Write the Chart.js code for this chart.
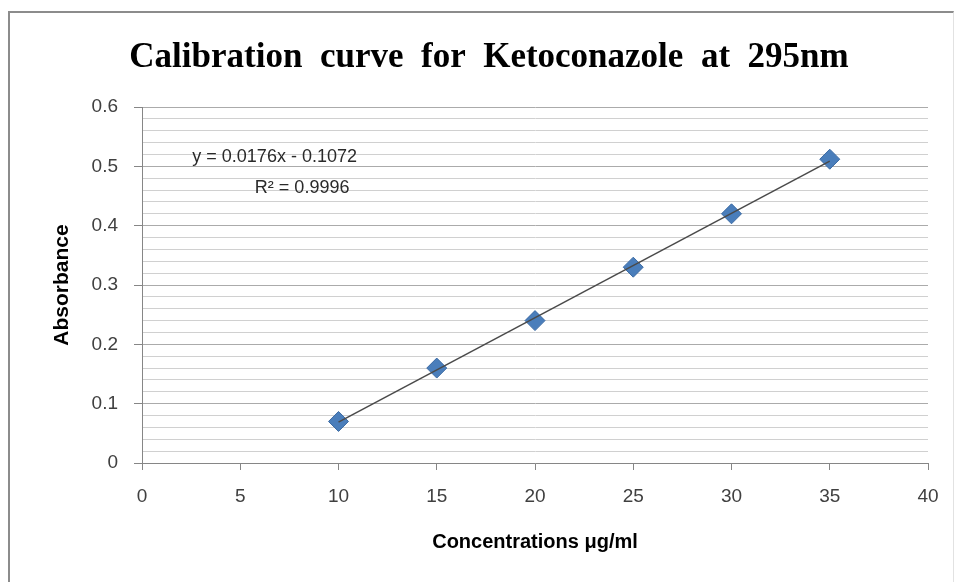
<!DOCTYPE html>
<html>
<head>
<meta charset="utf-8">
<script src="https://cdn.jsdelivr.net/npm/chart.js@4/dist/chart.umd.min.js"></script>
<style>
  body { margin: 0; background: #fff; overflow: hidden; }
  #frame { position: absolute; left: 8px; top: 11px; width: 943px; height: 600px;
           border-top: 2px solid #8c8c8c; border-left: 2px solid #8c8c8c; border-right: 1px solid #e2e2e2; }
  #canv { position: absolute; left: 0; top: 0; }
</style>
</head>
<body>
<div id="frame"></div>
<canvas id="canv" width="956" height="582"></canvas>
<script>
// data
var concentrations = [10, 15, 20, 25, 30, 35];
var absorbance = [0.07, 0.16, 0.24, 0.33, 0.42, 0.512];
// trendline end points (y = 0.0176x - 0.1072)
var trendX = [10, 35];
var trendY = [0.0688, 0.5088];
var equationText = "y = 0.0176x - 0.1072";
var rSquaredText = "R\u00b2 = 0.9996";

function isMajor(v)
{
  return Math.abs(v * 10 - Math.round(v * 10)) < 1e-6;
}

var points = [];
for (var i = 0; i < concentrations.length; i++)
{
  points.push({x: concentrations[i], y: absorbance[i]});
}
var trend = [];
for (var j = 0; j < trendX.length; j++)
{
  trend.push({x: trendX[j], y: trendY[j]});
}

var equationPlugin = {
  id: "equation",
  afterDatasetsDraw: function(chart) {
    var ctx = chart.ctx;
    var xs = chart.scales.x, ys = chart.scales.y;
    ctx.save();
    ctx.fillStyle = "#2a2a2a";
    ctx.font = "18px 'Liberation Sans'";
    ctx.textAlign = "center";
    ctx.textBaseline = "middle";
    ctx.fillText(equationText, xs.getPixelForValue(6.75), ys.getPixelForValue(0.516));
    ctx.fillText(rSquaredText, xs.getPixelForValue(8.15), ys.getPixelForValue(0.464));
    ctx.restore();
  }
};

var myChart = new Chart(document.getElementById("canv"), {
  type: "scatter",
  data: {
    datasets: [
      {
        label: "Trendline",
        type: "line",
        data: trend,
        borderColor: "#4a4a4a",
        borderWidth: 1.5,
        pointRadius: 0,
        fill: false,
        order: 0
      },
      {
        label: "Absorbance",
        data: points,
        pointStyle: "rectRot",
        pointRadius: 10,
        backgroundColor: "#4a7ebb",
        borderColor: "#3b6aa3",
        borderWidth: 1,
        order: 1
      }
    ]
  },
  options: {
    responsive: false,
    animation: false,
    layout: { padding: { left: 50, right: 28, top: 0, bottom: 0 } },
    plugins: {
      legend: { display: false },
      tooltip: { enabled: false },
      title: {
        display: true,
        text: "Calibration  curve  for  Ketoconazole  at  295nm",
        color: "#000",
        font: { family: "'Liberation Serif'", size: 35, weight: "bold" },
        padding: { top: 37, bottom: 28 }
      }
    },
    scales: {
      x: {
        type: "linear",
        min: 0,
        max: 40,
        afterFit: function(scale) { scale.height = 119; },
        ticks: {
          stepSize: 5,
          padding: 15,
          color: "#404040",
          font: { family: "'Liberation Sans'", size: 19 }
        },
        grid: { drawOnChartArea: false, tickLength: 7, tickColor: "#868686" },
        border: { color: "#868686", width: 1 },
        title: {
          display: true,
          text: "Concentrations \u03bcg/ml",
          color: "#000",
          font: { family: "'Liberation Sans'", size: 20, weight: "bold" },
          padding: { top: 0, bottom: 28 }
        }
      },
      y: {
        type: "linear",
        min: 0,
        max: 0.6,
        afterFit: function(scale) { scale.width = 92; },
        ticks: {
          stepSize: 0.02,
          autoSkip: false,
          padding: 16,
          color: "#404040",
          font: { family: "'Liberation Sans'", size: 19 },
          callback: function(v) {
            return isMajor(v) ? String(Math.round(v * 10) / 10) : "";
          }
        },
        grid: {
          tickLength: 8,
          color: function(c) { return isMajor(c.tick.value) ? "#ababab" : "#d0d0d0"; },
          tickColor: function(c) { return isMajor(c.tick.value) ? "#868686" : "rgba(0,0,0,0)"; }
        },
        border: { color: "#868686", width: 1 },
        title: {
          display: true,
          text: "Absorbance",
          color: "#000",
          font: { family: "'Liberation Sans'", size: 21, weight: "bold" },
          padding: { top: 0, bottom: 0 }
        }
      }
    }
  },
  plugins: [equationPlugin]
});
</script>
</body>
</html>
